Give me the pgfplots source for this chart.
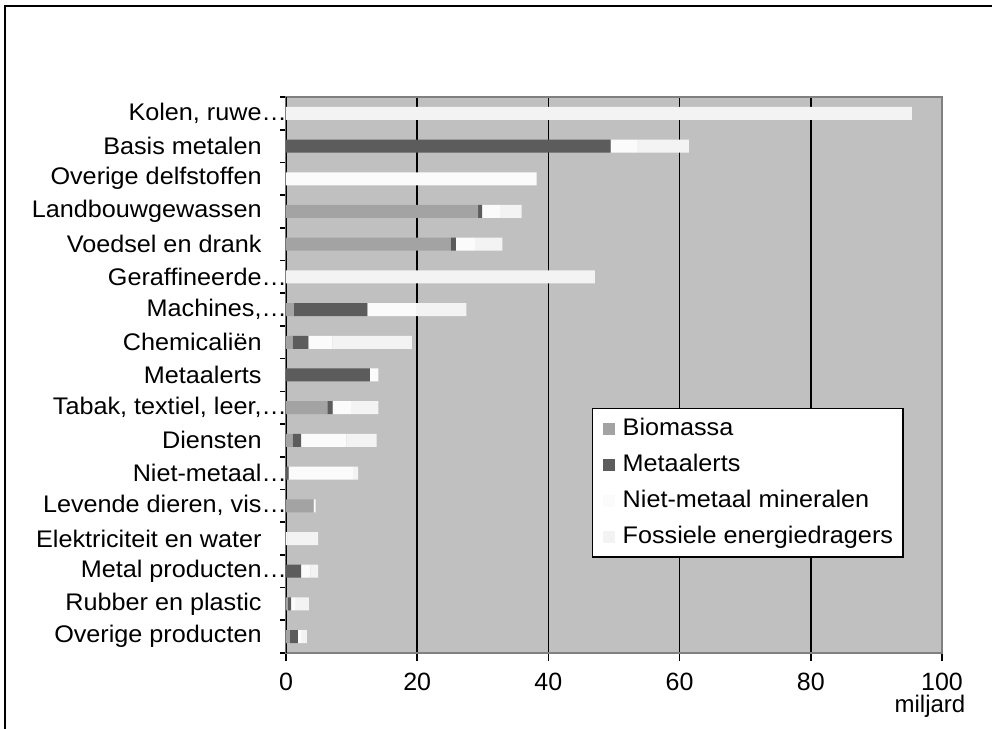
\documentclass[border=0pt]{standalone}
\usepackage{fontspec}
\setmainfont{Liberation Sans}
\usepackage{graphicx}
\usepackage{pgfplots}
\pgfplotsset{compat=1.18}
\definecolor{bgc}{HTML}{C0C0C0}
\definecolor{cbio}{HTML}{A3A3A3}
\definecolor{cmet}{HTML}{5C5C5C}
\definecolor{cnie}{HTML}{FBFBFB}
\definecolor{cfos}{HTML}{F3F3F3}
\newcommand{\W}[1]{\scalebox{1.05}[1]{#1}}
\pgfplotsset{sqlegend/.style={legend image code/.code={\fill[##1,draw=none] (0pt,-3pt) rectangle (6pt,3pt);}}}
\begin{document}
\begin{tikzpicture}
\useasboundingbox (0,0) rectangle (496pt,364.5pt);
\draw[black, line width=0.8pt] (2.5pt,-1pt) -- (2.5pt,361.5pt) -- (497pt,361.5pt);
\begin{axis}[
  at={(143pt,38pt)}, anchor=south west,
  scale only axis, width=328pt, height=278pt,
  xbar stacked, bar width=6.5pt,
  xmin=0, xmax=100, ymin=-0.5, ymax=16.5,
  xtick={0,20,...,100},
  ytick={0,...,16},
  yticklabels={
    \W{Overige producten},
    \W{Rubber en plastic},
    \W{Metal producten\rlap{…}},
    \W{Elektriciteit en water},
    \W{Levende dieren, vis\rlap{…}},
    \W{Niet-metaal\rlap{…}},
    \W{Diensten},
    \W{Tabak, textiel, leer,\rlap{…}},
    \W{Metaalerts},
    \W{Chemicaliën},
    \W{Machines,\rlap{…}},
    \W{Geraffineerde\rlap{…}},
    \W{Voedsel en drank},
    \W{Landbouwgewassen},
    \W{Overige delfstoffen},
    \W{Basis metalen},
    \W{Kolen, ruwe\rlap{…}}},
  minor ytick={-0.5,0.5,...,16.5},
  tick align=outside, tick pos=left,
  major tick length=4pt, minor tick length=3pt,
  every major y tick/.append style={draw=none},
  xmajorgrids, major grid style={black, line width=0.8pt},
  axis background/.style={fill=bgc},
  axis line style={draw=black!50, line width=0.8pt},
  tick style={black, line width=0.8pt},
  /pgf/number format/assume math mode=true,
  xticklabel style={font=\fontsize{12.5}{14}\selectfont, yshift=-2.5pt},
  yticklabel style={font=\fontsize{12}{14}\selectfont, inner xsep=0pt, xshift=-8pt},
  xlabel={miljard},
  xlabel style={at={(axis description cs:1,0)}, anchor=base, font=\fontsize{12}{14}\selectfont, xshift=-6pt, yshift=-30pt},
  legend cell align=left,
  legend style={at={(0.4665,0.4406)}, anchor=north west, draw=black, line width=0.7pt, fill=white,
    inner xsep=5pt, inner ysep=4.3pt, row sep=6.5pt, font=\fontsize{12}{14}\selectfont,
    nodes={inner sep=0pt, text height=9pt, text depth=2.5pt},
    /tikz/every odd column/.style={column sep=4pt}},
  every axis plot post/.append style={sqlegend},
]
\addplot[fill=cbio, draw=none] coordinates {(0.6,0) (0.3,1) (0,2) (0,3) (4.2,4) (0,5) (1.0,6) (6.3,7) (0,8) (1.0,9) (1.2,10) (0,11) (25.1,12) (29.3,13) (0,14) (0,15) (0,16)};
\addlegendentry{\W{Biomassa}}
\addplot[fill=cmet, draw=none] coordinates {(1.2,0) (0.5,1) (2.3,2) (0,3) (0,4) (0.4,5) (1.3,6) (0.8,7) (12.8,8) (2.4,9) (11.2,10) (0,11) (0.8,12) (0.6,13) (0,14) (49.5,15) (0,16)};
\addlegendentry{\W{Metaalerts}}
\addplot[fill=cnie, draw=none] coordinates {(0.5,0) (0.6,1) (1.4,2) (0.2,3) (0.3,4) (9.8,5) (6.9,6) (2.8,7) (1.3,8) (3.7,9) (7.4,10) (0,11) (2.9,12) (2.7,13) (38.2,14) (4.0,15) (0,16)};
\addlegendentry{\W{Niet-metaal mineralen}}
\addplot[fill=cfos, draw=none] coordinates {(0.9,0) (2.1,1) (1.2,2) (4.7,3) (0,4) (0.8,5) (4.6,6) (4.2,7) (0,8) (12.1,9) (7.7,10) (47.1,11) (4.2,12) (3.3,13) (0,14) (7.9,15) (95.4,16)};
\addlegendentry{\W{Fossiele energiedragers}}
\draw[black, line width=1pt] (rel axis cs:0,0) -- (rel axis cs:0,1);
\end{axis}
\end{tikzpicture}
\end{document}
